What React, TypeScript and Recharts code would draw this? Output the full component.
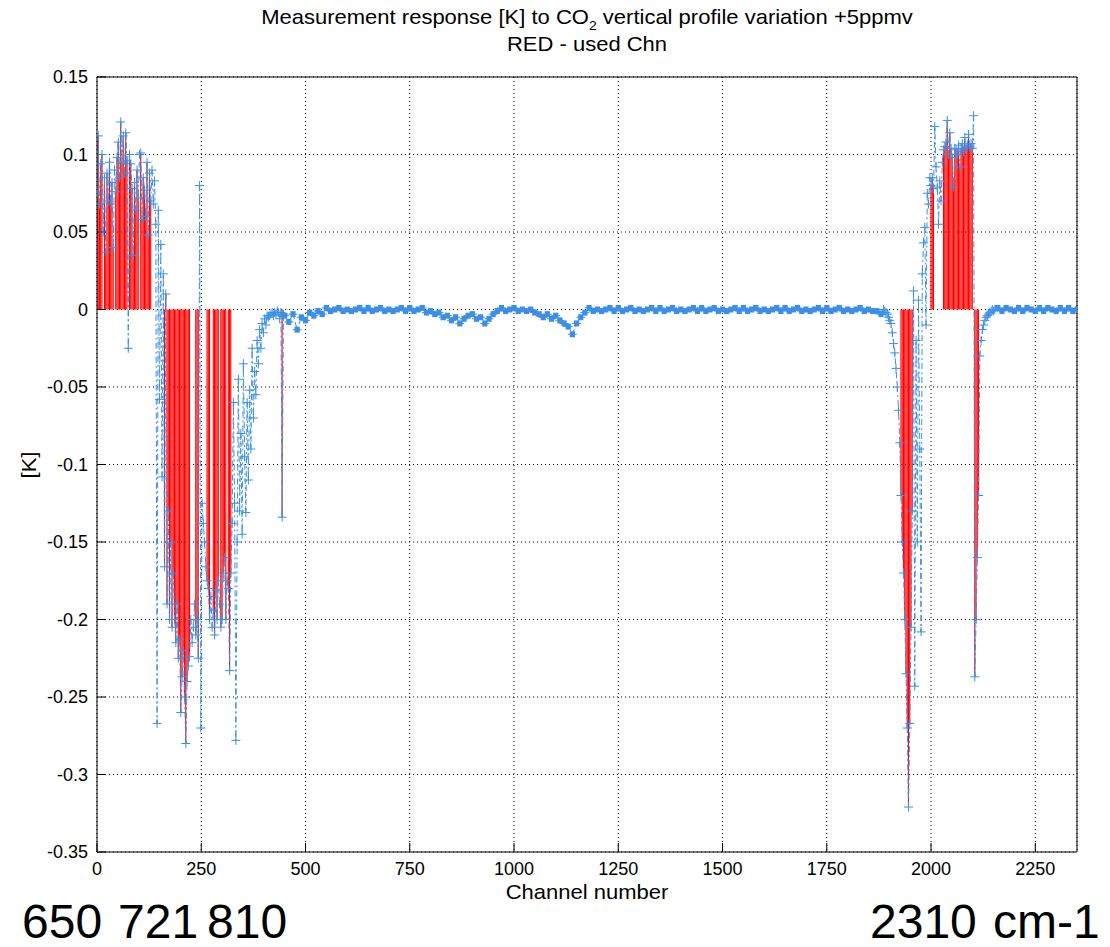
import React from 'react';
import { ComposedChart, Line, Bar, XAxis, YAxis, CartesianGrid } from 'recharts';

// channel response [K], sampled per band (start channel, step, values)
const lwStart = 0;
const lwStep = 3;
const lwK = [
  0.075, 0.112, 0.068, 0.094, 0.1, 0.05, 0.085, 0.037, 0.088, 0.07,
  0.095, 0.068, 0.082, 0.04, 0.09, 0.076, 0.098, 0.108, 0.085, 0.121,
  0.095, 0.112, 0.088, 0.114, 0.096, -0.025, 0.1, 0.094, 0.078, 0.035,
  0.082, 0.064, 0.09, 0.072, 0.1, 0.101, 0.058, 0.085, 0.077, 0.06,
  0.095, 0.048, 0.088, 0.07, 0.09, 0.068, 0.083, 0.055, -0.267, 0.064,
  -0.058, 0.042, -0.108, 0.023, -0.166, 0.01, -0.19, -0.13, -0.2, -0.15,
  -0.205, -0.17, -0.2, -0.215, -0.19, -0.225, -0.213, -0.26, -0.237, -0.22,
  -0.25, -0.28, -0.24, -0.23, -0.224, -0.2, -0.215, -0.205, -0.19, -0.21,
  -0.2, -0.225, 0.08, -0.27, -0.125, -0.138, -0.15, -0.166, -0.175, -0.18,
  -0.2, -0.185, -0.205, -0.194, -0.21, -0.181, -0.2, -0.175, -0.19, -0.205,
  -0.2, -0.17, -0.16, -0.2, -0.175, -0.18, -0.233, -0.17, -0.138, -0.06,
  -0.125, -0.278, -0.15, -0.045, -0.13, -0.08, -0.145, -0.035, -0.095, -0.131,
  -0.06, -0.11, -0.052, -0.09, -0.025, -0.07, -0.04, -0.055, -0.02, -0.035,
  -0.013, -0.025, -0.009, -0.015, -0.006, -0.01, -0.004, -0.005, -0.004, -0.003,
  -0.002, -0.004, -0.002, -0.003, -0.001, -0.002, -0.006, -0.002, -0.134, -0.003,
];

const windowStart = 450;
const windowStep = 10;
const windowK = [
  -0.004, -0.008, -0.003, -0.013, -0.005, -0.007, -0.002, -0.004, -0.001, -0.003,
  0.001, -0.001, 0.0, 0.001, -0.001, 0.0, -0.001, 0.0, 0.001, -0.001,
  0.001, -0.001, 0.0, 0.001, -0.001, 0.0, -0.001, 0.0, 0.001, -0.001,
  0.001, -0.001, 0.0, 0.001, -0.002, -0.001, -0.003, -0.002, -0.005, -0.004,
  -0.007, -0.005, -0.009, -0.006, -0.004, -0.003, -0.006, -0.005, -0.009, -0.006,
  -0.003, -0.001, 0.001, -0.001, 0.0, 0.001, -0.001, 0.0, -0.001, 0.0,
  -0.002, -0.003, -0.005, -0.003, -0.006, -0.004, -0.007, -0.009, -0.011, -0.016,
  -0.009, -0.005, -0.002, 0.001, -0.001, 0.0, -0.001, 0.0, 0.001, -0.001,
  0.001, -0.001, 0.0, 0.001, -0.001, 0.0, -0.001, 0.0, 0.001, -0.001,
  0.001, -0.001, 0.0, 0.001, -0.001, 0.0, -0.001, 0.0, 0.001, -0.001,
  0.001, -0.001, 0.0, 0.001, -0.001, 0.0, -0.001, 0.0, 0.001, -0.001,
  0.001, -0.001, 0.0, 0.001, -0.001, 0.0, -0.001, 0.0, 0.001, -0.001,
  0.001, -0.001, 0.0, 0.001, -0.001, 0.0, -0.001, 0.0, 0.001, -0.001,
  0.001, -0.001, 0.0, 0.001, -0.001, 0.0, -0.001, 0.0, 0.001, -0.001,
  0.0, -0.001, -0.001, -0.003,
];

const swStart = 1886;
const swStep = 3;
const swK = [
  0.0, -0.001, -0.002, -0.003, -0.005, -0.007, -0.009, -0.015, -0.022, -0.028,
  -0.038, -0.05, -0.065, -0.086, -0.12, -0.15, -0.17, -0.2, -0.235, -0.27,
  -0.321, -0.267, -0.205, -0.13, 0.012, -0.243, -0.02, -0.15, 0.006, -0.09,
  -0.208, 0.023, 0.043, 0.053, -0.01, 0.075, 0.068, 0.085, 0.08, 0.085,
  0.078, 0.118, 0.092, 0.079, 0.055, 0.083, 0.07, 0.095, 0.103, 0.105,
  0.108, 0.122, 0.1, 0.114, 0.104, 0.098, 0.079, 0.104, 0.103, 0.1,
  0.106, 0.092, 0.104, 0.107, 0.102, 0.111, 0.104, 0.106, 0.113, 0.105,
  0.107, 0.104, 0.125, -0.237, -0.2, -0.16, -0.12, -0.03, -0.02, -0.013,
  -0.01, -0.007, -0.005, -0.004, -0.003, -0.002, -0.001, 0.0, -0.001, 0.0,
];

const tailStart = 2160;
const tailStep = 10;
const tailK = [
  0.001, -0.001, 0.001, 0.0, -0.001, 0.001, -0.001, 0.001, 0.0, -0.001,
  0.001, -0.001, 0.001, 0.0, -0.001, 0.001, -0.001, 0.001, -0.001, 0.0,
];

// channels used in the retrieval (RED)
const usedRanges = [
  [0, 12], [18, 39], [45, 72], [78, 99], [105, 129],
  [162, 222], [237, 243], [264, 270], [279, 291], [297, 309], [315, 321], [444, 444],
  [1928, 1955], [2000, 2006], [2030, 2099], [2105, 2114],
];

const xTicks = [0, 250, 500, 750, 1000, 1250, 1500, 1750, 2000, 2250];
const yTicks = [0.15, 0.1, 0.05, 0, -0.05, -0.1, -0.15, -0.2, -0.25, -0.3, -0.35];
const wavenumbersLeft = ['650', '721', '810'];
const wavenumbersRight = ['2310', 'cm-1'];

const BLUE = '#3b8fe6';
const RED = '#ff0000';
const FONT = '"Liberation Sans", Arial, Helvetica, sans-serif';

const bands = [
  { start: lwStart, step: lwStep, values: lwK },
  { start: windowStart, step: windowStep, values: windowK },
  { start: swStart, step: swStep, values: swK },
  { start: tailStart, step: tailStep, values: tailK },
];

const isUsed = (ch: number) => usedRanges.some(([a, b]) => ch >= a && ch <= b);

const data = bands.flatMap((b) =>
  b.values.map((k, i) => {
    const ch = b.start + i * b.step;
    return { ch, k, used: isUsed(ch) ? k : null, step: b.step };
  })
);

// "+" marker; the coarsely sampled bands stand for a packed run of markers,
// so each of their points is drawn as a filled block of the band
const renderPlus = (props: any) => {
  const { cx, cy, index, payload } = props;
  if (cx == null || cy == null) return <g key={`p${index}`} />;
  if (payload && payload.step >= 10) {
    return (
      <g key={`p${index}`}>
        <rect x={cx - 2.6} y={cy - 3} width={5.2} height={6} fill={BLUE} />
        <path d={`M${cx - 4.5},${cy}H${cx + 4.5}`} stroke={BLUE} strokeWidth={1} fill="none" />
      </g>
    );
  }
  return (
    <path
      key={`p${index}`}
      d={`M${cx - 4.5},${cy}H${cx + 4.5}M${cx},${cy - 4.5}V${cy + 4.5}`}
      stroke={BLUE}
      strokeWidth={1}
      fill="none"
    />
  );
};

const textBase: React.CSSProperties = {
  position: 'absolute',
  whiteSpace: 'nowrap',
  fontFamily: FONT,
  color: '#000',
  lineHeight: 1,
};

export default function App() {
  return (
    <div style={{ position: 'absolute', left: 0, top: 0, width: 1110, height: 947, background: '#fff', overflow: 'hidden' }}>
      <div style={{ ...textBase, left: 587, top: 20, fontSize: 22, transform: 'translate(-50%, -50%) scaleY(0.88)' }}>
        Measurement response [K] to CO<sub style={{ fontSize: 14, verticalAlign: -6 }}>2</sub> vertical profile variation +5ppmv
      </div>
      <div style={{ ...textBase, left: 587, top: 45, fontSize: 22, transform: 'translate(-50%, -50%) scaleY(0.88)' }}>
        RED - used Chn
      </div>

      <ComposedChart
        width={1110}
        height={947}
        data={data}
        margin={{ top: 77, right: 33, bottom: 65, left: 37 }}
      >
        <CartesianGrid stroke="#000" strokeDasharray="1 3" />
        <XAxis
          dataKey="ch"
          type="number"
          domain={[0, 2350]}
          ticks={xTicks}
          interval={0}
          allowDataOverflow
          height={30}
          stroke="#000"
          tickSize={-9}
          tickMargin={19}
          tick={{ fill: '#000', fontSize: 18, fontFamily: FONT }}
        />
        <XAxis
          xAxisId="top"
          orientation="top"
          mirror
          dataKey="ch"
          type="number"
          domain={[0, 2350]}
          ticks={xTicks}
          interval={0}
          allowDataOverflow
          stroke="#000"
          tickSize={9}
          tick={false}
        />
        <YAxis
          type="number"
          domain={[-0.35, 0.15]}
          ticks={yTicks}
          interval={0}
          allowDataOverflow
          width={60}
          stroke="#000"
          tickSize={-9}
          tickMargin={18}
          tick={{ fill: '#000', fontSize: 18, fontFamily: FONT }}
        />
        <YAxis
          yAxisId="right"
          orientation="right"
          mirror
          type="number"
          domain={[-0.35, 0.15]}
          ticks={yTicks}
          interval={0}
          allowDataOverflow
          stroke="#000"
          tickSize={9}
          tick={false}
        />
        <Bar dataKey="used" fill={RED} barSize={2} isAnimationActive={false} />
        <Line
          dataKey="k"
          type="linear"
          stroke={BLUE}
          strokeWidth={1}
          strokeDasharray="6 3 2 3"
          dot={renderPlus}
          activeDot={false}
          isAnimationActive={false}
        />
      </ComposedChart>

      <div style={{ ...textBase, left: 30, top: 465, fontSize: 22, transform: 'translate(-50%, -50%) rotate(-90deg) scaleY(0.88)' }}>
        [K]
      </div>
      <div style={{ ...textBase, left: 587, top: 893, fontSize: 22, transform: 'translate(-50%, -50%) scaleY(0.88)' }}>
        Channel number
      </div>

      {wavenumbersLeft.map((w, i) => (
        <div key={w} style={{ ...textBase, left: [22, 118, 207][i], top: 898, fontSize: 48, lineHeight: '48px' }}>
          {w}
        </div>
      ))}
      {wavenumbersRight.map((w, i) => (
        <div key={w} style={{ ...textBase, left: [870, 993][i], top: 898, fontSize: 48, lineHeight: '48px' }}>
          {w}
        </div>
      ))}
    </div>
  );
}
